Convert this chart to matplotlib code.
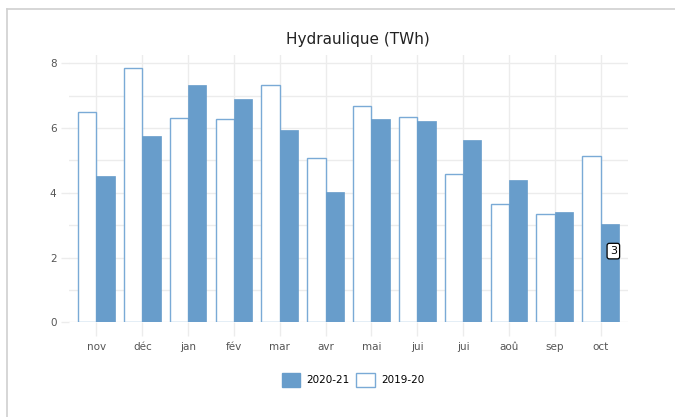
import numpy as np
import matplotlib.pyplot as plt
from matplotlib.lines import Line2D
from matplotlib.patches import Patch

months = ['nov', 'déc', 'jan', 'fév', 'mar', 'avr', 'mai', 'jui', 'jui', 'aoû', 'sep', 'oct']
prod_2019_20 = [6.49, 7.87, 6.32, 6.29, 7.34, 5.09, 6.67, 6.35, 4.59, 3.66, 3.35, 5.14]
prod_2020_21 = [4.51, 5.76, 7.33, 6.91, 5.95, 4.03, 6.28, 6.23, 5.63, 4.40, 3.42, 3.04]

blue = '#689dcb'
edge = '#7aaad6'

fig = plt.figure(figsize=(6.75, 4.17), dpi=100)
ax = fig.add_axes([0.1022, 0.2271, 0.8282, 0.641])

x = np.arange(len(months))
w = 0.4
ax.bar(x - w / 2, prod_2019_20, width=w, color='white', edgecolor=edge, linewidth=1.0, zorder=3)
ax.bar(x + w / 2, prod_2020_21, width=w, color=blue, edgecolor=blue, linewidth=0.5, zorder=3)

ax.set_xlim(-0.6, len(months) - 0.4)
ax.set_ylim(0, 8.26)
ax.set_xticks(x)
ax.set_xticklabels(months)
ax.set_yticks([0, 2, 4, 6, 8])
ax.set_yticks([1, 3, 5, 7], minor=True)
ax.grid(True, which='both', color='#ececec', linewidth=1.0, zorder=0)
for s in ax.spines.values():
    s.set_visible(False)
ax.tick_params(axis='x', length=10, color='#ececec', width=1, pad=4,
               labelsize=7.5, labelcolor='#555555')
ax.tick_params(axis='y', which='major', length=6, color='#ececec', width=1, pad=3,
               labelsize=7.5, labelcolor='#555555')
ax.tick_params(axis='y', which='minor', length=0)

# value box on the last bar
ax.text(x[-1] + 0.28, prod_2020_21[-1] - 0.84, '3', fontsize=8, ha='center', va='center',
        zorder=5, bbox=dict(boxstyle='round,pad=0.25,rounding_size=0.2', fc='white',
                            ec='black', lw=0.9))

fig.text(0.53, 0.905, 'Hydraulique (TWh)', ha='center', va='center', fontsize=11,
         color='#222222')

handles = [Patch(facecolor=blue, edgecolor=blue, label='2020-21'),
           Patch(facecolor='white', edgecolor=edge, label='2019-20')]
fig.legend(handles=handles, loc='center', bbox_to_anchor=(0.523, 0.089), ncol=2,
           frameon=False, fontsize=7.5, handlelength=1.8, handleheight=1.8,
           handletextpad=0.6, columnspacing=0.6)

# outer frame (top and left edges)
fig.add_artist(Line2D([7 / 675, 1], [1 - 9 / 417, 1 - 9 / 417], color='#d0d0d0', lw=1.2))
fig.add_artist(Line2D([7 / 675, 7 / 675], [0, 1 - 9 / 417], color='#d0d0d0', lw=1.2))

fig.savefig('out.png', dpi=100)
